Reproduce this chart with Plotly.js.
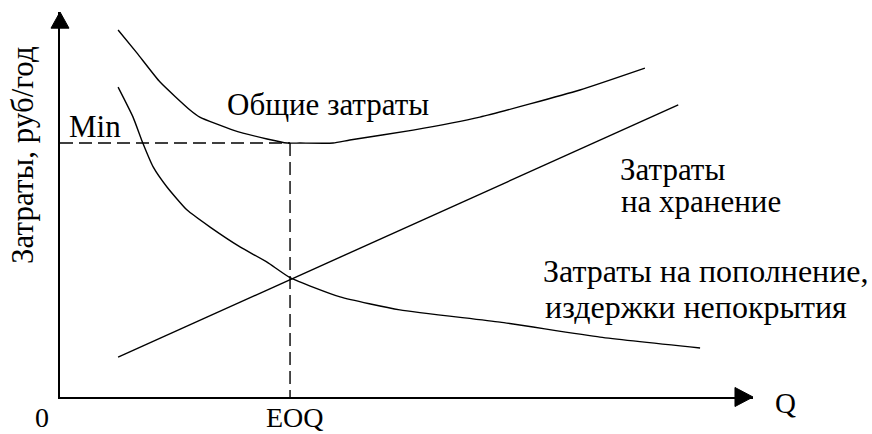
<!DOCTYPE html>
<html>
<head>
<meta charset="utf-8">
<script src="https://cdn.plot.ly/plotly-3.0.1.min.js"></script>
<style>html,body{margin:0;padding:0;background:#fff;}#chart{width:872px;height:434px;}</style>
</head>
<body>
<div id="chart"></div>
<script>
// Total cost curve (Общие затраты)
const totalQ    = [1.01, 1.34, 1.74, 2.26, 2.43, 3.01, 3.60, 3.95, 4.17, 4.75, 5.04, 6.14, 7.30, 9.04, 10.17];
const totalCost = [14.45, 13.54, 12.40, 11.30, 11.02, 10.51, 10.16, 10.0, 10.0, 10.0, 10.12, 10.51, 11.02, 12.09, 12.95];
// Holding cost line (Затраты на хранение)
const holdQ    = [1.01, 10.75];
const holdCost = [1.57, 11.50];
// Replenishment / shortage cost curve
const replQ    = [1.01, 1.27, 1.44, 1.62, 1.86, 2.21, 2.61, 3.13, 3.60, 4.0, 4.87, 5.91, 7.65, 9.39, 11.13];
const replCost = [12.20, 11.02, 10.0, 9.06, 8.27, 7.36, 6.69, 5.91, 5.31, 4.70, 3.94, 3.43, 2.95, 2.36, 1.93];
// Optimum
const eoq = 4.0;
const minCost = 10.0;

const FONT = 'Liberation Serif, Times New Roman, serif';
const FS = 31;
const lineStyle = {color: '#000', width: 1.4, shape: 'spline', smoothing: 0.5};
const dashStyle = {color: '#000', width: 1.4, dash: '13px,6px'};

const traces = [
  {x: totalQ, y: totalCost, mode: 'lines', line: lineStyle, hoverinfo: 'skip'},
  {x: holdQ, y: holdCost, mode: 'lines', line: {color: '#000', width: 1.4}, hoverinfo: 'skip'},
  {x: replQ, y: replCost, mode: 'lines', line: lineStyle, hoverinfo: 'skip'},
  {x: [0, eoq], y: [minCost, minCost], mode: 'lines', line: dashStyle, hoverinfo: 'skip'},
  {x: [eoq, eoq], y: [minCost, 0], mode: 'lines', line: dashStyle, hoverinfo: 'skip'}
];

function ann(text, x, y, xanchor, size) {
  return {text: text, x: x, y: y, xref: 'x', yref: 'y', xanchor: xanchor, yanchor: 'middle',
    showarrow: false, font: {family: FONT, size: size || FS, color: '#000'}};
}

const layout = {
  width: 872, height: 434,
  margin: {l: 60, r: 119, t: 12, b: 37, pad: 0},
  paper_bgcolor: '#fff', plot_bgcolor: '#fff',
  showlegend: false,
  xaxis: {range: [0, 12.05], showline: true, linewidth: 2, linecolor: '#000', showgrid: false,
          zeroline: false, showticklabels: false, ticks: '', fixedrange: true},
  yaxis: {range: [0, 15.16], showline: true, linewidth: 2, linecolor: '#000', showgrid: false,
          zeroline: false, showticklabels: false, ticks: '', fixedrange: true},
  shapes: [
    {type: 'path', xref: 'paper', yref: 'paper', path: 'M -0.013 0.958 L 0 1.0 L 0.013 0.958 Z',
     fillcolor: '#000', line: {color: '#000', width: 1}},
    {type: 'path', xref: 'paper', yref: 'paper', path: 'M 0.974 -0.0247 L 1.0 0 L 0.974 0.0247 Z',
     fillcolor: '#000', line: {color: '#000', width: 1}}
  ],
  annotations: [
    ann('Общие затраты', 2.87, 11.50, 'left'),
    ann('Min', 0.12, 10.67, 'left'),
    ann('Затраты', 9.70, 8.94, 'left'),
    ann('на хранение', 9.72, 7.68, 'left'),
    ann('Затраты на пополнение,', 8.36, 4.96, 'left', 32),
    ann('издержки непокрытия', 8.40, 3.56, 'left', 32),
    {text: '0', xref: 'paper', yref: 'paper', x: -0.026, y: -0.052, xanchor: 'center', yanchor: 'middle',
     showarrow: false, font: {family: FONT, size: 28, color: '#000'}},
    {text: 'EOQ', xref: 'x', yref: 'paper', x: eoq, y: -0.052, xshift: 5, xanchor: 'center', yanchor: 'middle',
     showarrow: false, font: {family: FONT, size: 28, color: '#000'}},
    {text: 'Q', xref: 'paper', yref: 'paper', x: 1.0476, y: -0.0156, xanchor: 'center', yanchor: 'middle',
     showarrow: false, font: {family: FONT, size: 29, color: '#000'}},
    {text: 'Затраты, руб/год', xref: 'paper', yref: 'paper', x: -0.0534, y: 0.6286,
     xanchor: 'center', yanchor: 'middle', textangle: -90, showarrow: false,
     font: {family: FONT, size: FS, color: '#000'}}
  ]
};

Plotly.newPlot('chart', traces, layout, {staticPlot: true, displayModeBar: false});
</script>
</body>
</html>
